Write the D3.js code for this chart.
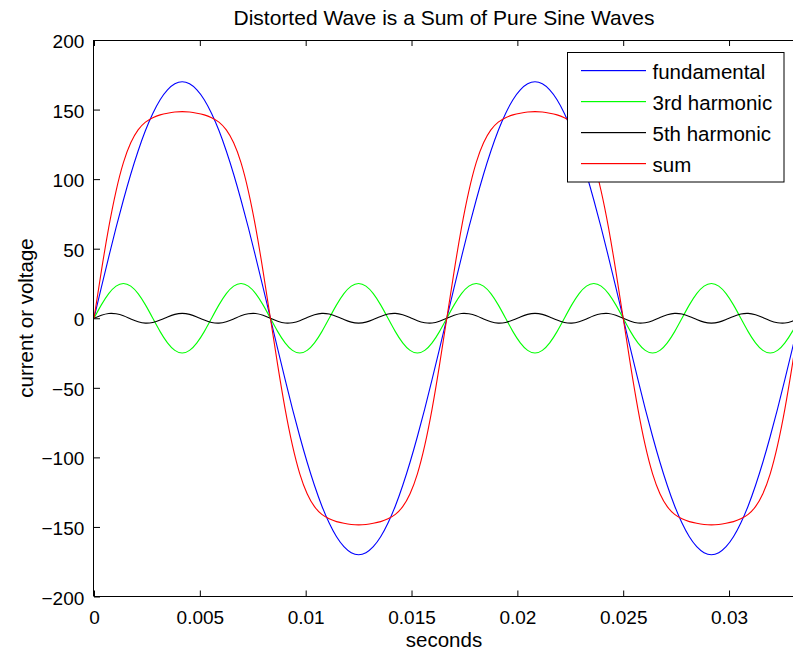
<!doctype html>
<html lang="en">
<head>
  <meta charset="UTF-8">
  <title>Distorted Wave</title>
  <script src="https://cdn.jsdelivr.net/npm/d3@7"></script>
  <style>
    body { margin: 0; background: white; }
    text { font-family: "Liberation Sans", Arial, Helvetica, sans-serif; fill: black; }
  </style>
</head>
<body>
<div id="container"></div>
<script type="text/javascript">
// samples every 1/2880 s (7.5 degrees of the 60 Hz fundamental)
var dt = 1 / 2880;
var seconds = d3.range(97).map(function(i) { return i * dt; });

var fundamental = [0, 22.2, 44.0, 65.1, 85.0, 103.5, 120.2, 134.9, 147.2, 157.1, 164.2, 168.5, 170, 168.5, 164.2, 157.1, 147.2, 134.9, 120.2, 103.5, 85.0, 65.1, 44.0, 22.2, 0,
  -22.2, -44.0, -65.1, -85.0, -103.5, -120.2, -134.9, -147.2, -157.1, -164.2, -168.5, -170, -168.5, -164.2, -157.1, -147.2, -134.9, -120.2, -103.5, -85.0, -65.1, -44.0, -22.2, 0,
  22.2, 44.0, 65.1, 85.0, 103.5, 120.2, 134.9, 147.2, 157.1, 164.2, 168.5, 170, 168.5, 164.2, 157.1, 147.2, 134.9, 120.2, 103.5, 85.0, 65.1, 44.0, 22.2, 0,
  -22.2, -44.0, -65.1, -85.0, -103.5, -120.2, -134.9, -147.2, -157.1, -164.2, -168.5, -170, -168.5, -164.2, -157.1, -147.2, -134.9, -120.2, -103.5, -85.0, -65.1, -44.0, -22.2, 0];

var third = [0, 9.6, 17.7, 23.1, 25, 23.1, 17.7, 9.6, 0, -9.6, -17.7, -23.1, -25, -23.1, -17.7, -9.6,
  0, 9.6, 17.7, 23.1, 25, 23.1, 17.7, 9.6, 0, -9.6, -17.7, -23.1, -25, -23.1, -17.7, -9.6,
  0, 9.6, 17.7, 23.1, 25, 23.1, 17.7, 9.6, 0, -9.6, -17.7, -23.1, -25, -23.1, -17.7, -9.6,
  0, 9.6, 17.7, 23.1, 25, 23.1, 17.7, 9.6, 0, -9.6, -17.7, -23.1, -25, -23.1, -17.7, -9.6,
  0, 9.6, 17.7, 23.1, 25, 23.1, 17.7, 9.6, 0, -9.6, -17.7, -23.1, -25, -23.1, -17.7, -9.6,
  0, 9.6, 17.7, 23.1, 25, 23.1, 17.7, 9.6, 0, -9.6, -17.7, -23.1, -25, -23.1, -17.7, -9.6, 0];

var fifth = [0, 2.1, 3.4, 3.2, 1.8, -0.5, -2.5, -3.5, -3.0, -1.3, 0.9, 2.8, 3.5, 2.8, 0.9, -1.3, -3.0, -3.5, -2.5, -0.5, 1.8, 3.2, 3.4, 2.1, 0,
  -2.1, -3.4, -3.2, -1.8, 0.5, 2.5, 3.5, 3.0, 1.3, -0.9, -2.8, -3.5, -2.8, -0.9, 1.3, 3.0, 3.5, 2.5, 0.5, -1.8, -3.2, -3.4, -2.1, 0,
  2.1, 3.4, 3.2, 1.8, -0.5, -2.5, -3.5, -3.0, -1.3, 0.9, 2.8, 3.5, 2.8, 0.9, -1.3, -3.0, -3.5, -2.5, -0.5, 1.8, 3.2, 3.4, 2.1, 0,
  -2.1, -3.4, -3.2, -1.8, 0.5, 2.5, 3.5, 3.0, 1.3, -0.9, -2.8, -3.5, -2.8, -0.9, 1.3, 3.0, 3.5, 2.5, 0.5, -1.8, -3.2, -3.4, -2.1, 0];

var sum = [0, 33.9, 65.1, 91.4, 111.8, 126.1, 135.4, 141.0, 144.2, 146.2, 147.4, 148.2, 148.5, 148.2, 147.4, 146.2, 144.2, 141.0, 135.4, 126.1, 111.8, 91.4, 65.1, 33.9, 0,
  -33.9, -65.1, -91.4, -111.8, -126.1, -135.4, -141.0, -144.2, -146.2, -147.4, -148.2, -148.5, -148.2, -147.4, -146.2, -144.2, -141.0, -135.4, -126.1, -111.8, -91.4, -65.1, -33.9, 0,
  33.9, 65.1, 91.4, 111.8, 126.1, 135.4, 141.0, 144.2, 146.2, 147.4, 148.2, 148.5, 148.2, 147.4, 146.2, 144.2, 141.0, 135.4, 126.1, 111.8, 91.4, 65.1, 33.9, 0,
  -33.9, -65.1, -91.4, -111.8, -126.1, -135.4, -141.0, -144.2, -146.2, -147.4, -148.2, -148.5, -148.2, -147.4, -146.2, -144.2, -141.0, -135.4, -126.1, -111.8, -91.4, -65.1, -33.9, 0];

var seriesNames = ['fundamental', '3rd harmonic', '5th harmonic', 'sum'];
var seriesColors = ['#0000ff', '#00ff00', '#000000', '#ff0000'];
var seriesValues = [fundamental, third, fifth, sum];

var xTicks = [0, 0.005, 0.01, 0.015, 0.02, 0.025, 0.03];
var xTickLabels = ['0', '0.005', '0.01', '0.015', '0.02', '0.025', '0.03'];
var yTicks = [-200, -150, -100, -50, 0, 50, 100, 150, 200];

(function draw() {
  var W = 793, H = 653;
  var pLeft = 94, pRight = 799.6, pTop = 40, pBottom = 596.5;

  var svg = d3.select('#container').append('svg')
    .attr('width', W)
    .attr('height', H);

  var x = d3.scaleLinear().domain([0, 1 / 30]).range([pLeft, pRight]);
  var y = d3.scaleLinear().domain([-200, 200]).range([pBottom, pTop]);

  svg.append('clipPath').attr('id', 'plotclip')
    .append('rect')
    .attr('x', pLeft).attr('y', pTop)
    .attr('width', pRight - pLeft).attr('height', pBottom - pTop);

  // axes, ticks pointing inward
  var xAxisBottom = d3.axisBottom(x).tickValues(xTicks)
    .tickFormat(function(d, i) { return xTickLabels[i]; })
    .tickSizeInner(-6).tickSizeOuter(0).tickPadding(14);
  var xAxisTop = d3.axisTop(x).tickValues(xTicks).tickFormat('')
    .tickSizeInner(-6).tickSizeOuter(0);
  var yAxisLeft = d3.axisLeft(y).tickValues(yTicks)
    .tickSizeInner(-6).tickSizeOuter(0).tickPadding(9.7);

  var gb = svg.append('g').attr('transform', 'translate(0,' + pBottom + ')').call(xAxisBottom);
  var gt = svg.append('g').attr('transform', 'translate(0,' + pTop + ')').call(xAxisTop);
  var gl = svg.append('g').attr('transform', 'translate(' + pLeft + ',0)').call(yAxisLeft);

  [gb, gt, gl].forEach(function(g) {
    g.select('.domain').remove();
    g.selectAll('line').attr('stroke', '#000').attr('stroke-width', 1);
    g.selectAll('text').attr('font-size', 19).attr('font-family', null).attr('fill', '#000');
  });
  gl.selectAll('text').attr('dy', '0.4em');

  // frame
  svg.append('line').attr('x1', pLeft).attr('x2', W).attr('y1', pTop + 0.5).attr('y2', pTop + 0.5).attr('stroke', '#000');
  svg.append('line').attr('x1', pLeft).attr('x2', W).attr('y1', pBottom).attr('y2', pBottom).attr('stroke', '#000');
  svg.append('line').attr('x1', pLeft - 0.5).attr('x2', pLeft - 0.5).attr('y1', pTop).attr('y2', pBottom).attr('stroke', '#000');

  var line = d3.line()
    .x(function(d, i) { return x(seconds[i]); })
    .y(function(d) { return y(d); })
    .curve(d3.curveNatural);

  var plot = svg.append('g').attr('clip-path', 'url(#plotclip)');
  seriesValues.forEach(function(vals, i) {
    plot.append('path')
      .attr('d', line(vals))
      .attr('fill', 'none')
      .attr('stroke', seriesColors[i])
      .attr('stroke-width', 1.1);
  });

  // legend
  var lg = svg.append('g');
  lg.append('rect')
    .attr('x', 567.5).attr('y', 52.5)
    .attr('width', 216.5).attr('height', 129.5)
    .attr('fill', 'white').attr('stroke', '#000').attr('stroke-width', 1);
  seriesNames.forEach(function(name, i) {
    var ly = 70.5 + i * 31;
    lg.append('rect')
      .attr('x', 581).attr('y', ly - 0.5)
      .attr('width', 65).attr('height', 1.2)
      .attr('fill', seriesColors[i]);
    lg.append('text')
      .attr('x', 652.5).attr('y', ly + 8.8)
      .attr('font-size', 20.5)
      .text(name);
  });

  // titles
  svg.append('text')
    .attr('x', (233 + 655) / 2).attr('y', 24.5)
    .attr('text-anchor', 'middle')
    .attr('font-size', 21)
    .text('Distorted Wave is a Sum of Pure Sine Waves');

  svg.append('text')
    .attr('x', 444).attr('y', 647)
    .attr('text-anchor', 'middle')
    .attr('font-size', 20.5)
    .text('seconds');

  svg.append('text')
    .attr('transform', 'translate(33,318) rotate(-90)')
    .attr('text-anchor', 'middle')
    .attr('font-size', 20.5)
    .text('current or voltage');
})();
</script>
</body>
</html>
